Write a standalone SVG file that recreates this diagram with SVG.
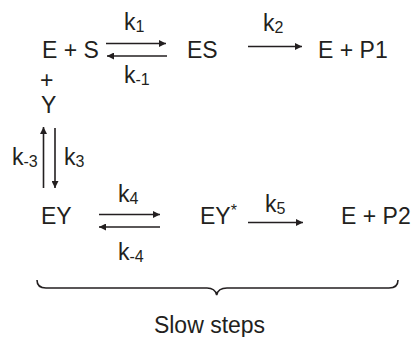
<svg xmlns="http://www.w3.org/2000/svg" width="416" height="337" viewBox="0 0 416 337">
<defs>
<marker id="ah" viewBox="0 0 10 10" refX="10" refY="5" markerWidth="10" markerHeight="7" markerUnits="userSpaceOnUse" orient="auto">
<path d="M0,0 L10,5 L0,10 z" fill="#231f20"/>
</marker>
<style>
text{font-family:"Liberation Sans",Arial,sans-serif;font-size:23px;fill:#231f20}
.sub{font-size:16px}
.ln{stroke:#231f20;stroke-width:1.6;fill:none}
.ar{stroke:#231f20;stroke-width:1.6;fill:none;marker-end:url(#ah)}
</style>
</defs>
<rect width="416" height="337" fill="#fff"/>
<g id="n-ES-left"><text x="42" y="58">E + S</text></g>
<g id="n-Y"><text x="40" y="88">+</text><text x="41" y="113">Y</text></g>
<g id="n-ES"><text x="187" y="58">ES</text></g>
<g id="n-EP1"><text x="318" y="58">E + P1</text></g>
<g id="n-EY"><text x="41" y="224">EY</text></g>
<g id="n-EYstar"><text x="200" y="224">EY<tspan class="sub" dy="-8">*</tspan></text></g>
<g id="n-EP2"><text x="341" y="224">E + P2</text></g>
<g id="connectors">
<line class="ar" x1="106" y1="43.5" x2="166" y2="43.5"/>
<line class="ar" x1="167" y1="56" x2="107" y2="56"/>
<line class="ar" x1="248" y1="46.5" x2="302" y2="46.5"/>
<line class="ar" x1="43.5" y1="188" x2="43.5" y2="127"/>
<line class="ar" x1="55" y1="128" x2="55" y2="188"/>
<line class="ar" x1="99" y1="214.5" x2="160" y2="214.5"/>
<line class="ar" x1="160" y1="227" x2="99" y2="227"/>
<line class="ar" x1="248" y1="222.5" x2="303" y2="222.5"/>
<path class="ln" d="M37,280 Q37,288 46,288 L207,288 Q215,288 216.7,295 Q218,288 227,288 L389,288 Q398,288 398,280"/>
</g>
<g id="labels">
<text x="124" y="30">k<tspan class="sub" dy="2">1</tspan></text>
<text x="124" y="83">k<tspan class="sub" dy="2">-1</tspan></text>
<text x="263" y="31">k<tspan class="sub" dy="2">2</tspan></text>
<text x="12" y="165">k<tspan class="sub" dy="2">-3</tspan></text>
<text x="64" y="165">k<tspan class="sub" dy="2">3</tspan></text>
<text x="118" y="202">k<tspan class="sub" dy="2">4</tspan></text>
<text x="118" y="260">k<tspan class="sub" dy="2">-4</tspan></text>
<text x="265" y="212">k<tspan class="sub" dy="2">5</tspan></text>
<text x="209.5" y="333" text-anchor="middle" style="font-size:23px">Slow steps</text>
</g>
</svg>
